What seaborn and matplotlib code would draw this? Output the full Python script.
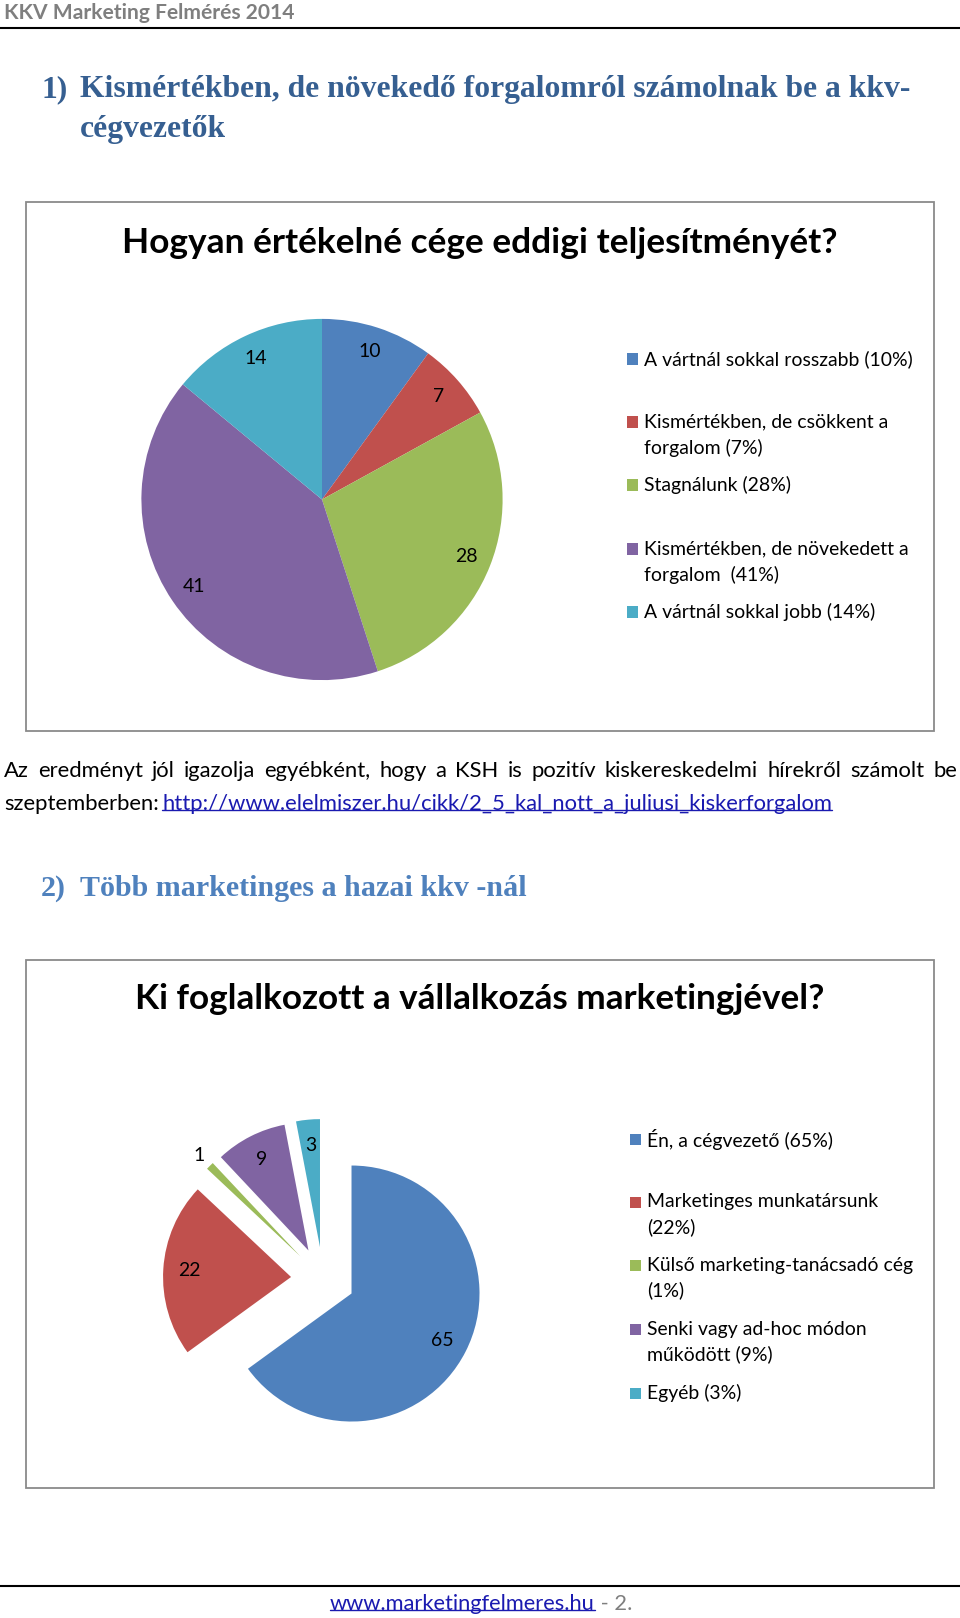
import numpy as np
import seaborn as sns
import matplotlib.pyplot as plt
from matplotlib.patches import Rectangle
from matplotlib.lines import Line2D

# --- data ---
perf_labels = ["A vártnál sokkal rosszabb (10%)",
               "Kismértékben, de csökkent a\nforgalom (7%)",
               "Stagnálunk (28%)",
               "Kismértékben, de növekedett a\nforgalom  (41%)",
               "A vártnál sokkal jobb (14%)"]
perf_values = [10, 7, 28, 41, 14]

mkt_labels = ["Én, a cégvezető (65%)",
              "Marketinges munkatársunk\n(22%)",
              "Külső marketing-tanácsadó cég\n(1%)",
              "Senki vagy ad-hoc módon\nműködött (9%)",
              "Egyéb (3%)"]
mkt_values = [65, 22, 1, 9, 3]

colors = sns.color_palette(["#4F81BD", "#C0504D", "#9BBB59", "#8064A2", "#4BACC6"])

header = "KKV Marketing Felmérés 2014"
heading1 = ["Kismértékben, de növekedő forgalomról számolnak be a kkv-", "cégvezetők"]
heading2 = "Több marketinges a hazai kkv -nál"
title1 = "Hogyan értékelné cége eddigi teljesítményét?"
title2 = "Ki foglalkozott a vállalkozás marketingjével?"
para1 = "Az eredményt jól igazolja egyébként, hogy a KSH is pozitív kiskereskedelmi hírekről számolt be"
para2 = "szeptemberben:"
link = "http://www.elelmiszer.hu/cikk/2_5_kal_nott_a_juliusi_kiskerforgalom"
footer_link = "www.marketingfelmeres.hu"

sns.set_theme(style="white")
plt.rcParams["font.family"] = ["Lato", "DejaVu Sans"]

W, H = 960, 1618
fig = plt.figure(figsize=(W / 100, H / 100), dpi=100)
fig.patch.set_facecolor("white")
renderer = fig.canvas.get_renderer()


def fx(x):
    return x / W


def fy(y):
    return 1 - y / H


def wpx(t):
    return t.get_window_extent(renderer).width


def put(x, y, s, target=None, size=12, **kw):
    kw.setdefault("va", "center")
    t = fig.text(fx(x), fy(y), s, fontsize=size, **kw)
    if target:
        t.set_fontsize(size * target / wpx(t))
    return t


def underline(t, color):
    bb = t.get_window_extent(renderer)
    yy = bb.y0 + 0.2 * bb.height
    fig.add_artist(Line2D([bb.x0 / W, bb.x1 / W], [yy / H, yy / H], color=color, lw=1))


# header
put(4, 13, header, target=289, weight="bold", color="#7F7F7F")
fig.add_artist(Line2D([0, 1], [fy(28), fy(28)], color="black", lw=1.5))

# heading 1
serif = ["Liberation Serif", "DejaVu Serif"]
h1 = put(80, 90, heading1[0], target=826, weight="bold", color="#365F91", family=serif)
hsize = h1.get_fontsize()
put(41, 90, "1)", size=hsize, weight="bold", color="#365F91", family=serif)
put(80, 129, heading1[1], size=hsize, weight="bold", color="#365F91", family=serif)

# boxes
for top, bot in [(202, 731), (960, 1488)]:
    fig.add_artist(Rectangle((fx(26), fy(bot)), (934 - 26) / W, (bot - top) / H,
                             transform=fig.transFigure, fill=False,
                             edgecolor="#8A8A8A", lw=1.3))

# chart titles
put(480, 243, title1, target=711, weight="bold", color="black", ha="center")
put(480, 999, title2, target=686, weight="bold", color="black", ha="center")

# legend font size
probe = put(644, 359, perf_labels[0], target=267, color="black")
lsize = probe.get_fontsize()
probe.remove()


def draw_pie(cx, cy, r, pad, values, explode, pctdist):
    half = r * pad
    ax = fig.add_axes([fx(cx - half), fy(cy + half), 2 * half / W, 2 * half / H])
    wedges, _, autotexts = ax.pie(values, colors=colors, startangle=90,
                                  counterclock=False, explode=explode,
                                  autopct=lambda p: f"{p * sum(values) / 100:.0f}",
                                  pctdistance=pctdist,
                                  wedgeprops=dict(linewidth=0),
                                  textprops=dict(fontsize=lsize, color="black"))
    ax.set_xlim(-pad, pad)
    ax.set_ylim(-pad, pad)
    ax.set_aspect("equal")
    ax.axis("off")
    return wedges, autotexts


def draw_legend(x, ys, labels):
    for y, lab, c in zip(ys, labels, colors):
        fig.add_artist(Rectangle((fx(x - 17), fy(y + 5.5)), 11 / W, 11 / H,
                                 transform=fig.transFigure, facecolor=c, lw=0))
        for i, line in enumerate(lab.split("\n")):
            put(x, y + i * 25.5, line, size=lsize, color="black")


# pie 1
draw_pie(322, 499.5, 180.6, 1.1, perf_values, None, 0.86)
draw_legend(644, [359, 422, 485, 549, 612], perf_labels)

# paragraph
words = para1.split()
tw = [put(0, 771, w_, size=10, color="black") for w_ in words]
t2 = put(4, 804, para2, target=154, color="black")
psize = t2.get_fontsize()
for t in tw:
    t.set_fontsize(psize)
total = sum(wpx(t) for t in tw)
gap = (957 - 4 - total) / (len(tw) - 1)
xpos = 4
for t in tw:
    t.set_x(fx(xpos))
    xpos += wpx(t) + gap
lt = put(162, 804, link, size=psize, color="#1A1AB0")
underline(lt, "#1A1AB0")

# heading 2
h2 = put(80, 889, heading2, target=444, weight="bold", color="#4F81BD", family=serif)
put(41, 889, "2)", size=h2.get_fontsize(), weight="bold", color="#4F81BD", family=serif)

# pie 2 (exploded)
wedges, autotexts = draw_pie(323, 1279, 128, 1.6, mkt_values, [0.25] * 5, 0.8)
w = wedges[2]
th = np.deg2rad((w.theta1 + w.theta2) / 2)
autotexts[2].set_position((w.center[0] + 1.12 * w.r * np.cos(th),
                           w.center[1] + 1.12 * w.r * np.sin(th)))
draw_legend(647, [1139, 1202, 1265, 1329, 1393], mkt_labels)

# footer
fig.add_artist(Line2D([0, 1], [fy(1586), fy(1586)], color="black", lw=1.5))
ft = put(330, 1604, footer_link, target=264, color="#1A1AB0")
underline(ft, "#1A1AB0")
put(330 + wpx(ft), 1604, " - 2.", size=ft.get_fontsize(), color="#7F7F7F")

fig.savefig("out.png", dpi=100, facecolor="white")
